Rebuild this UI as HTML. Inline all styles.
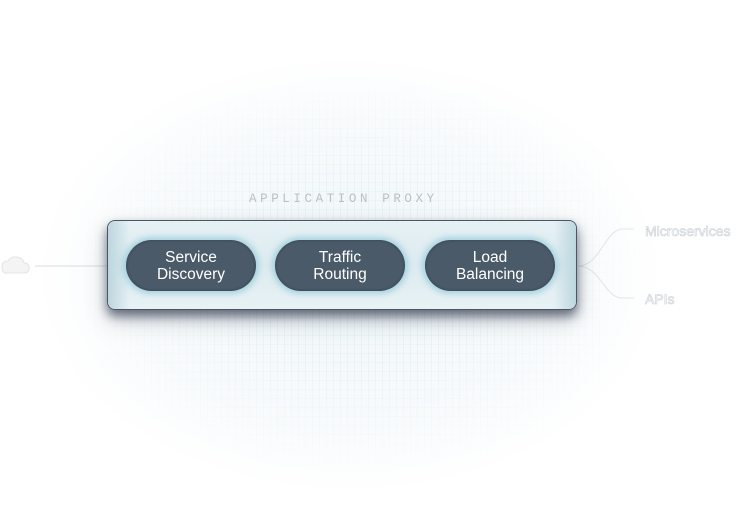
<!DOCTYPE html>
<html><head><style>
html,body{margin:0;padding:0;}
body{width:750px;height:530px;position:relative;overflow:hidden;background:#fff;font-family:"Liberation Sans",sans-serif;}
.bg{position:absolute;left:40px;top:60px;width:620px;height:430px;border-radius:50%;background:radial-gradient(ellipse at 50% 50%,rgba(220,235,240,0.45) 0%,rgba(230,240,244,0.28) 50%,rgba(255,255,255,0) 72%);}
.pat{position:absolute;left:60px;top:70px;width:600px;height:410px;border-radius:50%;opacity:.3;
background-image:repeating-linear-gradient(90deg,rgba(150,190,205,.35) 0 1px,transparent 1px 7px),repeating-linear-gradient(0deg,rgba(150,190,205,.25) 0 1px,transparent 1px 9px);
-webkit-mask-image:radial-gradient(ellipse at 50% 50%,#000 30%,transparent 70%);mask-image:radial-gradient(ellipse at 50% 50%,#000 30%,transparent 70%);}
.title{position:absolute;left:249px;top:192px;font-family:"Liberation Mono",monospace;font-size:12.5px;letter-spacing:3.6px;color:#b9c0c6;}
.box{position:absolute;left:107px;top:220px;width:470px;height:90px;border-radius:8px;box-sizing:border-box;border:1.5px solid #4a5566;
background:linear-gradient(180deg,#e6f1f4 0%,#dcebf0 50%,#e8f2f5 100%);box-shadow:0 6px 10px rgba(20,30,50,.55),0 10px 22px rgba(40,50,70,.25);}
.box:before{content:"";position:absolute;left:0;top:0;bottom:0;width:22px;background:linear-gradient(90deg,#bcd6de,rgba(230,241,244,0));border-radius:8px 0 0 8px;}
.box:after{content:"";position:absolute;right:0;top:0;bottom:0;width:22px;background:linear-gradient(270deg,#bcd6de,rgba(230,241,244,0));border-radius:0 8px 8px 0;}
.pill{position:absolute;top:240px;width:130px;height:51px;border-radius:26px;background:#4a5a69;color:#fff;font-size:15.5px;line-height:17px;text-align:center;display:flex;align-items:center;justify-content:center;
box-shadow:0 0 6px 3px rgba(120,190,210,.55),inset 0 0 3px rgba(0,0,0,.3);z-index:2;}
.lbl{position:absolute;font-size:14px;color:#fff;-webkit-text-stroke:0.6px #c9ced3;}
</style></head><body>
<div class="bg"></div>
<div class="pat"></div>
<div class="title">APPLICATION PROXY</div>
<svg style="position:absolute;left:0;top:0" width="750" height="530">
<path d="M2 267 q0-6 6-6 q3-5 9-4 q6 1 7 6 q5 0 5 5 q0 5-5 5 h-18 q-4 0-4-6z" fill="#f4f4f4" stroke="#e4e4e4"/>
<line x1="35" y1="266" x2="107" y2="266" stroke="#d8dcdf" stroke-width="1"/>
<path d="M578 266 C600 266 605 230 622 229 L634 229" fill="none" stroke="#e2e5e7"/>
<path d="M578 266 C600 266 605 298 622 298 L634 298" fill="none" stroke="#e2e5e7"/>
</svg>
<div class="box"></div>
<div class="pill" style="left:126px">Service<br>Discovery</div>
<div class="pill" style="left:275px">Traffic<br>Routing</div>
<div class="pill" style="left:425px">Load<br>Balancing</div>
<div class="lbl" style="left:645px;top:223px">Microservices</div>
<div class="lbl" style="left:645px;top:291px">APIs</div>
</body></html>
